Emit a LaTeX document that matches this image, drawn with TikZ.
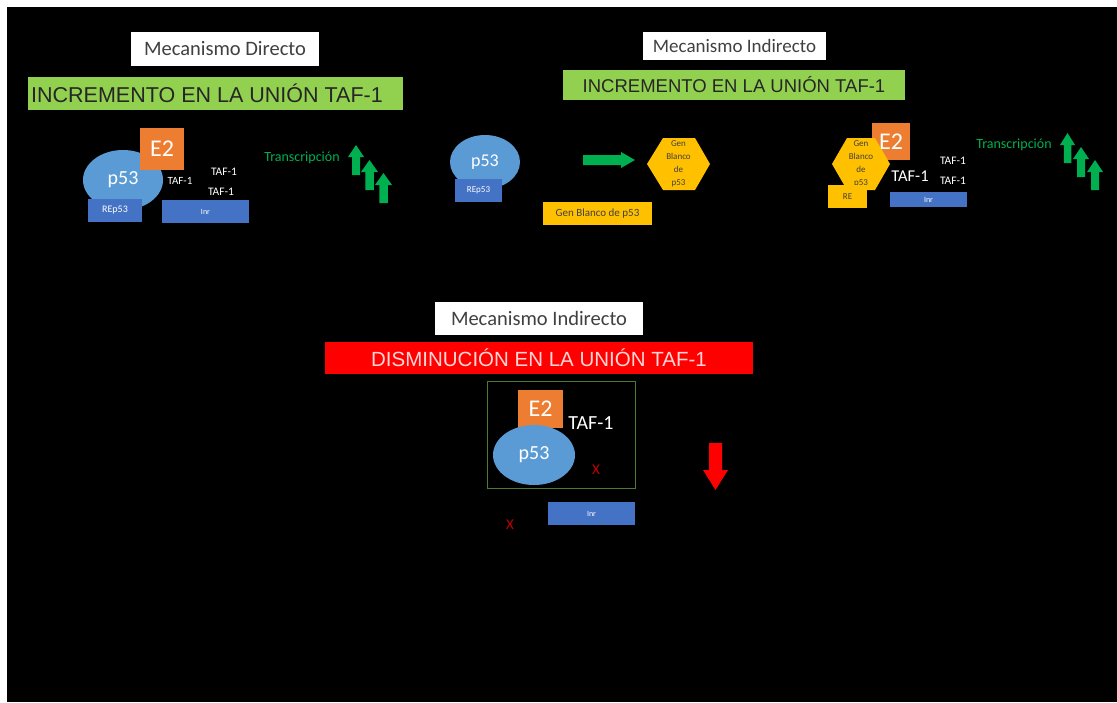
\documentclass[tikz,border=0pt]{standalone}
\usepackage{fontspec}
\setmainfont{Carlito}
\newfontfamily\arialf{Liberation Sans}
\usetikzlibrary{shapes.geometric}
\definecolor{lblue}{HTML}{5B9BD5}
\definecolor{dblue}{HTML}{4472C4}
\definecolor{orng}{HTML}{ED7D31}
\definecolor{lgreen}{HTML}{92D050}
\definecolor{ygold}{HTML}{FFC000}
\definecolor{brgreen}{HTML}{00B050}
\definecolor{frgreen}{HTML}{4E7A2E}
\definecolor{dred}{HTML}{C00000}
\definecolor{txtgray}{HTML}{404040}
\definecolor{pinktxt}{HTML}{FFD5D5}
\newcommand\UpArr[4]{\begin{scope}[shift={(#1,#2)},xscale=#3,yscale=#4]\fill[brgreen] (0.5,0) -- (1,0.4) -- (0.75,0.4) -- (0.75,1) -- (0.25,1) -- (0.25,0.4) -- (0,0.4) -- cycle;\end{scope}}
\tikzset{
  fs/.style={font=\fontsize{#1}{#1}\selectfont},
  rbox/.style 2 args={rectangle, inner sep=0pt, minimum width=#1, minimum height=#2},
  titlebox/.style={fill=white, text=txtgray},
  headgreen/.style={fill=lgreen, text=black!85, font=\arialf},
  e2box/.style={fill=orng, text=white},
  p53ell/.style={ellipse, fill=lblue, text=white, inner sep=0pt},
  bluebox/.style={fill=dblue, text=white!85},
  yellowbox/.style={fill=ygold, text=txtgray},
  whitetxt/.style={text=white, inner sep=0pt},
  transtxt/.style={text=brgreen, inner sep=0pt},
  hextxt/.style={text=txtgray, align=center, inner sep=0pt, font=\fontsize{9}{13}\selectfont},
  xmark/.style={text=dred, inner sep=0pt},
}
\begin{document}
\begin{tikzpicture}[x=1pt,y=-1pt]
\useasboundingbox (0,0) rectangle (1117,702);
\fill[white] (0,0) rectangle (1117,702);
\fill[black] (7,7) rectangle (1117,702);

% ---------- Top left: Mecanismo Directo ----------
\node[titlebox, rbox={188}{34}, fs=20.5] (title1) at (225,49) {Mecanismo Directo};
\node[headgreen, rbox={375}{33}] (head1) at (215.5,93.5) {};
\node[text=black!85, font=\arialf, anchor=west, inner sep=0pt] (head1t) at (31,93.5) {\fontsize{21.5}{22}\selectfont INCREMENTO EN LA UNIÓN TAF-1};
\node[p53ell, minimum width=80, minimum height=60, fs=20] (p53a) at (123,180) {p53};
\node[e2box, rbox={44}{42}, fs=24] (e2a) at (162,149) {E2};
\node[bluebox, rbox={54}{23}, fs=10] (rep53a) at (115,210.5) {REp53};
\node[bluebox, rbox={87}{23}, fs=8] (inra) at (205.5,211.5) {Inr};
\node[whitetxt, fs=11] (taf1a) at (180,181) {TAF-1};
\node[whitetxt, fs=11.5] (taf1b) at (224,172) {TAF-1};
\node[whitetxt, fs=11.5] (taf1c) at (221,192) {TAF-1};
\node[transtxt, fs=14] (transa) at (302,158) {Transcripción};
\UpArr{348}{145}{16}{30}
\UpArr{361}{160}{17}{30}
\UpArr{375}{173}{17}{30}

% ---------- Top middle: Mecanismo Indirecto ----------
\node[titlebox, rbox={183}{28}, fs=19] (title2) at (734.5,46) {Mecanismo Indirecto};
\node[headgreen, rbox={342}{30}] (head2) at (734,85) {\fontsize{18.5}{19}\selectfont INCREMENTO EN LA UNIÓN TAF-1};
\node[p53ell, minimum width=70, minimum height=54, fs=18] (p53b) at (485,162) {p53};
\node[bluebox, rbox={47}{23}, fs=9] (rep53b) at (478.5,190.5) {REp53};
\fill[brgreen] (583,155) -- (621,155) -- (621,152) -- (635,160) -- (621,168) -- (621,165) -- (583,165) -- cycle;
\fill[ygold] (647,164) -- (663,138) -- (695,138) -- (710,164) -- (695,190) -- (663,190) -- cycle;
\node[hextxt] (hexb) at (678.5,164) {Gen\\Blanco\\de\\p53};
\node[yellowbox, rbox={109}{23}, fs=11] (genb) at (597.5,213.5) {Gen Blanco de p53};

% ---------- Top right ----------
\node[e2box, rbox={38}{37}, fs=24] (e2c) at (891,141.5) {E2};
\fill[ygold] (832,164) -- (847,138) -- (875,138) -- (890,164) -- (875,190) -- (847,190) -- cycle;
\node[hextxt] (hexc) at (861,164) {Gen\\Blanco\\de\\p53};
\node[yellowbox, rbox={39}{23}, fs=9] (rec) at (847.5,196.5) {RE};
\node[whitetxt, fs=16.5] (tafc) at (910,176) {TAF-1};
\node[whitetxt, fs=11.5] (tafc1) at (953,161) {TAF-1};
\node[whitetxt, fs=11.5] (tafc2) at (953,181) {TAF-1};
\node[bluebox, rbox={77}{15}, fs=8] (inrc) at (928.5,199.5) {Inr};
\node[transtxt, fs=14] (transc) at (1014,145) {Transcripción};
\UpArr{1060}{133}{15}{30}
\UpArr{1073}{147}{16}{30}
\UpArr{1087}{160}{16}{30}

% ---------- Bottom: Disminucion ----------
\node[titlebox, rbox={208}{33}, fs=20.5] (title3) at (539,318.5) {Mecanismo Indirecto};
\node[fill=red, text=pinktxt, font=\arialf, rbox={428}{32}] (head3) at (539,358) {\fontsize{20.5}{21}\selectfont DISMINUCIÓN EN LA UNIÓN TAF-1};
\draw[frgreen, line width=0.8pt] (487,381) rectangle (635,488);
\node[e2box, rbox={45}{38}, fs=24] (e2d) at (540.5,409) {E2};
\node[whitetxt, fs=20] (tafd) at (591,423) {TAF-1};
\node[p53ell, minimum width=82, minimum height=60, fs=20] (p53d) at (534,455) {p53};
\node[xmark, fs=15] (x1) at (596,470) {X};
\fill[red] (709,443) -- (722,443) -- (722,470) -- (728,470) -- (715.5,490) -- (703,470) -- (709,470) -- cycle;
\node[bluebox, rbox={87}{23}, fs=8] (inrd) at (591.5,513.5) {Inr};
\node[xmark, fs=15] (x2) at (510,525) {X};
\end{tikzpicture}
\end{document}
